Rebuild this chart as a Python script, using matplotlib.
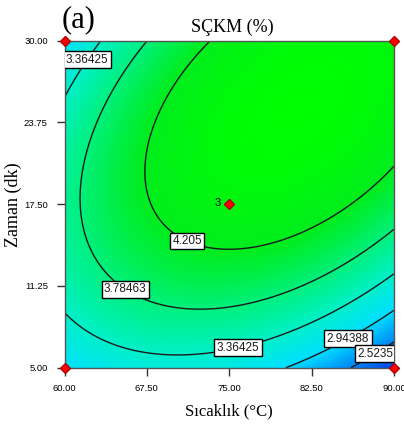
import numpy as np
import matplotlib.pyplot as plt
from matplotlib.colors import LinearSegmentedColormap

# quadratic model in coded units (A = temperature, B = time)
b0, bA, bB, bAB, bAA, bBB = 4.4142, 0.1571, 0.5695, 0.5755, -0.5954, -0.6865

temp_range = [60.0, 90.0]
time_range = [5.0, 30.0]
x_ticks = [60.00, 67.50, 75.00, 82.50, 90.00]
y_ticks = [5.00, 11.25, 17.50, 23.75, 30.00]
levels = [2.5235, 2.94388, 3.36425, 3.78463, 4.205]

# design points (factorial corners + center with 3 replicates)
design_T = [60, 90, 60, 90, 75]
design_t = [5, 5, 30, 30, 17.5]

label_pos = [(62.3, 28.4), (71.3, 14.9), (65.7, 11.2), (75.7, 6.9), (85.5, 7.7), (88.0, 6.5)]

T = np.linspace(temp_range[0], temp_range[1], 120)
t = np.linspace(time_range[0], time_range[1], 120)
TT, tt = np.meshgrid(T, t)
A = (TT - 75) / 15
B = (tt - 17.5) / 12.5
Z = b0 + bA*A + bB*B + bAB*A*B + bAA*A**2 + bBB*B**2

vals = [2.0, 2.5, 2.97, 3.36, 3.78, 4.2, 4.65]
cols = [(0, 0.15, 0.92), (0, 0.5, 0.96), (0, 0.88, 1.0), (0, 0.94, 0.80),
        (0, 0.94, 0.50), (0, 0.93, 0.12), (0, 1.0, 0.0)]
nodes = [(v - vals[0]) / (vals[-1] - vals[0]) for v in vals]
cmap = LinearSegmentedColormap.from_list('dx', list(zip(nodes, cols)))

fig = plt.figure(figsize=(4.04, 4.32), dpi=100)
ax = fig.add_axes([0.1597, 0.1488, 0.8153, 0.757])

ax.pcolormesh(TT, tt, Z, cmap=cmap, vmin=vals[0], vmax=vals[-1], shading='gouraud')
cs = ax.contour(TT, tt, Z, levels=levels, colors='#1a1a1a', linewidths=1.0)
lbls = ax.clabel(cs, fmt=lambda v: ('%.6f' % v).rstrip('0').rstrip('.'), manual=label_pos,
                 inline=False, fontsize=8.5)
for lb in lbls:
    lb.set_fontfamily('Liberation Sans')
    lb.set_bbox(dict(boxstyle='square,pad=0.2', fc='white', ec='black', lw=1.0))
    lb.set_rotation(0)
    lb.set_zorder(4)
    lb.set_clip_on(True)

ax.plot(design_T, design_t, 'D', color='#ff0000', mec='#b00000', ms=5, clip_on=False, zorder=5)
ax.text(74.2, 17.6, '3', fontsize=8, fontfamily='Liberation Sans', ha='right', va='center')

ax.set_xlim(temp_range)
ax.set_ylim(time_range)
ax.set_xticks(x_ticks)
ax.set_yticks(y_ticks)
ax.set_xticklabels(['%.2f' % v for v in x_ticks])
ax.set_yticklabels(['%.2f' % v for v in y_ticks])
ax.tick_params(length=6, width=1, color='#333333', labelsize=6.8, pad=6)
for lab in ax.get_xticklabels() + ax.get_yticklabels():
    lab.set_fontfamily('Liberation Sans')
for s in ax.spines.values():
    s.set_color('#555555')
    s.set_linewidth(1)

ax.set_xlabel('Sıcaklık (°C)', fontfamily='Liberation Serif', fontsize=12, labelpad=7)
ax.set_ylabel('Zaman (dk)', fontfamily='Liberation Serif', fontsize=13)
ax.yaxis.set_label_coords(-0.128, 0.5)
fig.text(0.575, 0.925, 'SÇKM (%)', fontfamily='Liberation Serif', fontsize=13, ha='center', va='baseline')
fig.text(0.153, 0.937, '(a)', fontfamily='Liberation Serif', fontsize=22, ha='left', va='baseline')

fig.savefig('out.png', dpi=100)
